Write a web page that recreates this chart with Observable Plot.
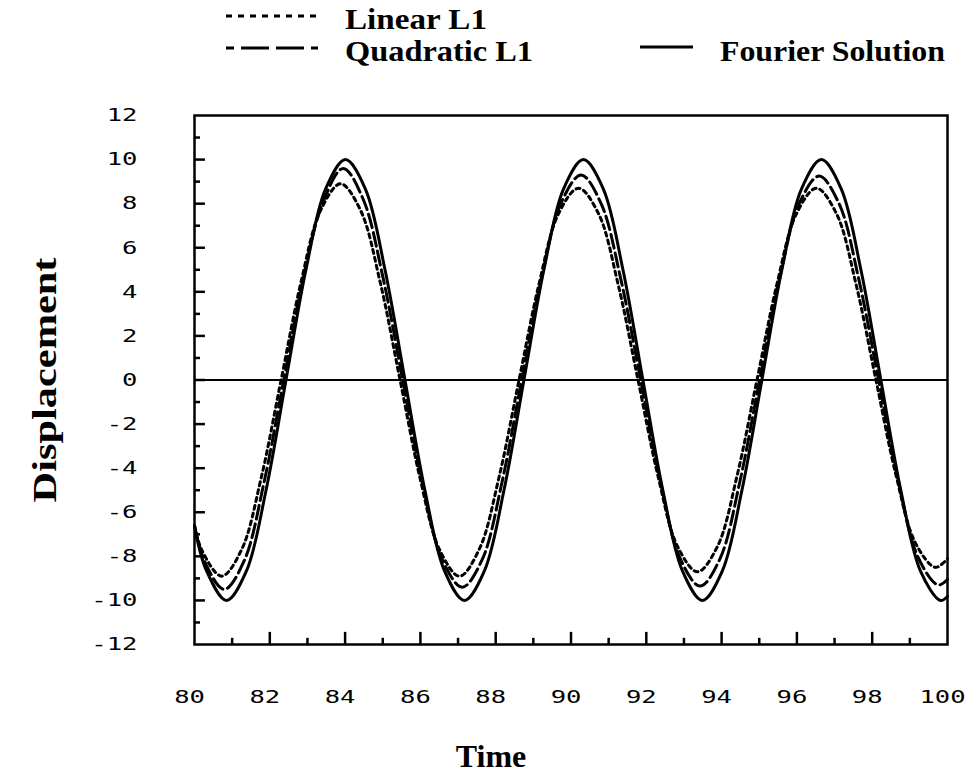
<!DOCTYPE html>
<html>
<head>
<meta charset="utf-8">
<script src="https://cdn.jsdelivr.net/npm/d3@7"></script>
<script src="https://cdn.jsdelivr.net/npm/@observablehq/plot@0.6"></script>
<style>
  html, body { margin: 0; padding: 0; background: #fff; }
  #wrap { position: relative; width: 966px; height: 775px; overflow: hidden; }
  #legend { position: absolute; left: 0; top: 0; }
  #chart { position: absolute; left: 0; top: 80px; }
</style>
</head>
<body>
<div id="wrap">
  <svg id="legend" width="966" height="80"></svg>
  <div id="chart"></div>
</div>
<script>
// ---------- data ----------
const fourierTime = [80, 80.32, 80.85, 81.38, 81.90, 82.43, 82.96, 83.48, 84.01, 84.54, 85.06, 85.59, 86.12, 86.64,
  87.17, 87.70, 88.22, 88.75, 89.28, 89.80, 90.33, 90.86, 91.38, 91.91, 92.44, 92.96, 93.49, 94.02, 94.54,
  95.07, 95.60, 96.12, 96.65, 97.18, 97.70, 98.23, 98.76, 99.28, 99.81, 100];
const fourierValue = [-6.64, -8.66, -10, -8.66, -5, 0, 5, 8.66, 10, 8.66, 5, 0, -5, -8.66,
  -10, -8.66, -5, 0, 5, 8.66, 10, 8.66, 5, 0, -5, -8.66, -10, -8.66, -5,
  0, 5, 8.66, 10, 8.66, 5, 0, -5, -8.66, -10, -9.82];

const quadraticTime = [80, 80.26, 80.79, 81.32, 81.84, 82.37, 82.90, 83.42, 83.95, 84.48, 85.00, 85.53, 86.06, 86.58,
  87.11, 87.64, 88.16, 88.69, 89.22, 89.74, 90.27, 90.80, 91.32, 91.85, 92.38, 92.90, 93.43, 93.96, 94.48,
  95.01, 95.54, 96.06, 96.59, 97.12, 97.64, 98.17, 98.70, 99.22, 99.75, 100];
const quadraticValue = [-6.6, -8.2, -9.5, -8.2, -4.7, 0, 4.7, 8.1, 9.6, 8.2, 4.7, 0, -4.7, -8.15,
  -9.4, -8.15, -4.7, 0, 4.65, 8.05, 9.3, 8.0, 4.6, 0, -4.65, -8.1, -9.35, -8.1, -4.65,
  0, 4.6, 8.0, 9.25, 8.0, 4.6, 0, -4.65, -8.05, -9.3, -9.05];

const linearTime = [80, 80.19, 80.72, 81.25, 81.77, 82.30, 82.83, 83.35, 83.88, 84.41, 84.93, 85.46, 85.99, 86.51,
  87.04, 87.57, 88.09, 88.62, 89.15, 89.67, 90.20, 90.73, 91.25, 91.78, 92.31, 92.83, 93.36, 93.89, 94.41,
  94.94, 95.47, 95.99, 96.52, 97.05, 97.57, 98.10, 98.63, 99.15, 99.68, 100];
const linearValue = [-6.6, -7.7, -8.9, -7.7, -4.45, 0, 4.45, 7.7, 8.9, 7.7, 4.45, 0, -4.45, -7.7,
  -8.9, -7.65, -4.4, 0, 4.35, 7.55, 8.7, 7.55, 4.35, 0, -4.35, -7.55, -8.7, -7.55, -4.35,
  0, 4.35, 7.55, 8.7, 7.55, 4.35, 0, -4.3, -7.4, -8.5, -8.1];

const xTickLabels = [80, 82, 84, 86, 88, 90, 92, 94, 96, 98, 100];
const xMinorTicks = [81, 83, 85, 87, 89, 91, 93, 95, 97, 99];
const xMajorTicks = [82, 84, 86, 88, 90, 92, 94, 96, 98];
const yTickLabels = [12, 10, 8, 6, 4, 2, 0, -2, -4, -6, -8, -10, -12];
const yMajorTicks = [10, 8, 6, 4, 2, 0, -2, -4, -6, -8, -10];
const yMinorTicks = [11, 9, 7, 5, 3, 1, -1, -3, -5, -7, -9, -11];

const legendItems = ["Linear L1", "Quadratic L1", "Fourier Solution"];
const xLabel = "Time";
const yLabel = "Displacement";

// ---------- build tables ----------
const rows = (ts, vs) => ts.map((t, i) => ({t, v: vs[i]}));
const fourierRows = rows(fourierTime, fourierValue);
const quadraticRows = rows(quadraticTime, quadraticValue);
const linearRows = rows(linearTime, linearValue);

// ---------- legend ----------
const serif = "'Liberation Serif', 'Times New Roman', serif";
const mono = "'DejaVu Sans Mono', monospace";
const lg = d3.select("#legend");
const legendSpec = [
  {x1: 226, x2: 318, y: 16, dash: "6,6", off: 0, tx: 345, ty: 29, w: 142},
  {x1: 226, x2: 318, y: 48, dash: "28,7", off: 20, tx: 345, ty: 61, w: 188},
  {x1: 640, x2: 693, y: 47, dash: null, off: 0, tx: 720, ty: 61, w: 225}
];
legendSpec.forEach((s, i) => {
  lg.append("line").attr("x1", s.x1).attr("x2", s.x2).attr("y1", s.y).attr("y2", s.y)
    .attr("stroke", "black").attr("stroke-width", 3.2)
    .attr("stroke-dasharray", s.dash).attr("stroke-dashoffset", s.off);
  lg.append("text").attr("x", s.tx).attr("y", s.ty)
    .attr("font-family", serif).attr("font-weight", "bold").attr("font-size", 30)
    .attr("textLength", s.w).attr("lengthAdjust", "spacingAndGlyphs")
    .text(legendItems[i]);
});

// ---------- chart ----------
const xTickLenMajor = 0.55, xTickLenMinor = 0.28; // in y units
const yTickLenMajor = 0.29, yTickLenMinor = 0.16; // in x units

const chart = Plot.plot({
  width: 966,
  height: 695,
  marginTop: 35,
  marginRight: 19,
  marginBottom: 131,
  marginLeft: 194,
  x: {domain: [80, 100], axis: null},
  y: {domain: [-12, 12], axis: null},
  style: {background: "white", color: "black"},
  marks: [
    Plot.ruleY([0], {stroke: "black", strokeWidth: 2}),
    Plot.line(fourierRows, {x: "t", y: "v", curve: "catmull-rom", stroke: "black", strokeWidth: 3}),
    Plot.line(quadraticRows, {x: "t", y: "v", curve: "catmull-rom", stroke: "black", strokeWidth: 3, strokeDasharray: "14,5"}),
    Plot.line(linearRows, {x: "t", y: "v", curve: "catmull-rom", stroke: "black", strokeWidth: 3, strokeDasharray: "4,4"}),
    // x ticks (inward)
    Plot.ruleX(xMajorTicks, {x: d => d, y1: -12, y2: -12 + xTickLenMajor, stroke: "black", strokeWidth: 2.5}),
    Plot.ruleX(xMinorTicks, {x: d => d, y1: -12, y2: -12 + xTickLenMinor, stroke: "black", strokeWidth: 2.5}),
    // y ticks (inward)
    Plot.ruleY(yMajorTicks, {y: d => d, x1: 80, x2: 80 + yTickLenMajor, stroke: "black", strokeWidth: 2.5}),
    Plot.ruleY(yMinorTicks, {y: d => d, x1: 80, x2: 80 + yTickLenMinor, stroke: "black", strokeWidth: 2.5}),
    Plot.frame({stroke: "black", strokeWidth: 2.5}),
    // tick labels
    Plot.text(xTickLabels, {x: d => d, y: -12, text: d => String(d), dx: -5, dy: 53, lineAnchor: "middle",
      fontFamily: mono, fontSize: 18, fill: "black"}),
    Plot.text(yTickLabels, {x: 80, y: d => d, text: d => String(d), dx: -57, textAnchor: "end", lineAnchor: "middle",
      fontFamily: mono, fontSize: 18, fill: "black"}),
    // axis titles
    Plot.text([xLabel], {frameAnchor: "bottom", dx: -80, dy: 112, textAnchor: "middle", lineAnchor: "middle",
      fontFamily: serif, fontWeight: "bold", fontSize: 32, fill: "black"}),
    Plot.text([yLabel], {frameAnchor: "left", dx: -149, rotate: -90, textAnchor: "middle", lineAnchor: "middle",
      fontFamily: serif, fontWeight: "bold", fontSize: 34, fill: "black"})
  ]
});
document.getElementById("chart").appendChild(chart);

// post-process: widen the plotter-style tick digits, and stretch the scanned y title
const svgRoot = chart.tagName.toLowerCase() === "svg" ? chart : chart.querySelector("svg");
svgRoot.querySelectorAll("text").forEach(t => {
  const s = t.textContent.trim();
  if (s === yLabel) {
    t.setAttribute("textLength", 245);
    t.setAttribute("lengthAdjust", "spacingAndGlyphs");
    return;
  }
  if (!/^-?\d+$/.test(s)) return;
  const anchor = getComputedStyle(t).textAnchor;
  const b = t.getBBox();
  const cx = anchor === "end" ? b.x + b.width : b.x + b.width / 2;
  const cy = b.y + b.height / 2;
  const prev = t.getAttribute("transform") || "";
  t.setAttribute("transform", `${prev} translate(${cx},${cy}) scale(1.42,1) translate(${-cx},${-cy})`);
});
</script>
</body>
</html>
